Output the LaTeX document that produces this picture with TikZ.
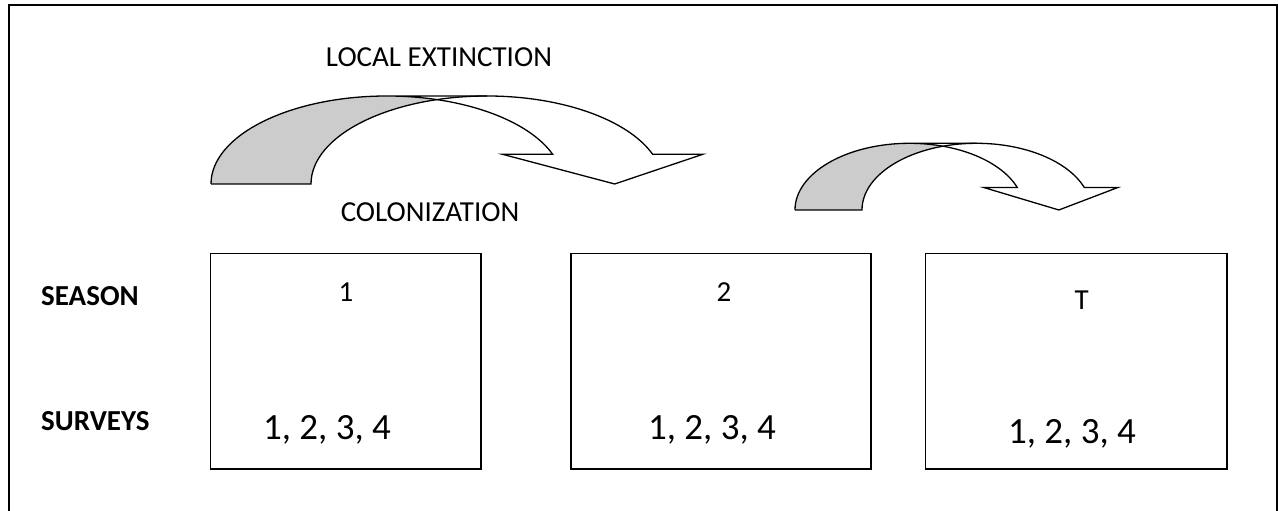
\documentclass[tikz,border=0pt]{standalone}
\usepackage{fontspec}
\setmainfont{Carlito}
\begin{document}
\begin{tikzpicture}[x=1pt,y=1pt,
  labeltext/.style={inner sep=0pt,font=\fontsize{29}{34}\selectfont},
  headtext/.style={labeltext,font=\fontsize{29}{34}\selectfont\bfseries},
  surveytext/.style={inner sep=0pt,font=\fontsize{37}{44}\selectfont},
  seasonbox/.style={draw,line width=1.4pt,minimum height=215.7pt,inner sep=0pt},
  arrowline/.style={line width=1.3pt,line join=miter},
  backshade/.style={fill=black!20}]

\useasboundingbox (0,0) rectangle (1278,511);

% outer frame (its lower edge lies below the page)
\draw[line width=2pt] (8.5,-5) -- (8.5,506) -- (1276.5,506) -- (1276.5,-5);

% curved arrow: rear band (shaded) and front band ending in a head
% #1,#2 centre of the rear ellipse, #3,#4 radii, #5 band width
\newcommand\bentarrow[5]{%
  \begin{scope}[shift={(#1,#2)}]
    \pgfmathsetmacro\crossang{acos(#5/(2*#3))}
    \pgfmathsetmacro\crossangb{180-\crossang}
    \pgfmathsetmacro\endang{19.7}
    \pgfmathsetmacro\innx{#3*cos(\endang)}
    \pgfmathsetmacro\inny{#4*sin(\endang)}
    \pgfmathsetmacro\outx{\innx+#5}
    \pgfmathsetmacro\tipx{\innx+0.62*#5}
    \pgfmathsetmacro\wing{#5/2}
    \coordinate (tip) at (\tipx,0);
    \fill[backshade] (-#3,0)
      arc[start angle=180,end angle=\crossang,x radius=#3,y radius=#4]
      arc[start angle=\crossangb,end angle=180,x radius=#3,y radius=#4] -- cycle;
    \draw[arrowline] (-#3,0)
      arc[start angle=180,end angle=90,x radius=#3,y radius=#4]
      -- ++(#5,0)
      arc[start angle=90,end angle=\endang,x radius=#3,y radius=#4]
      -- ++(\wing,0) -- (tip) -- (\innx-\wing,\inny) -- (\innx,\inny)
      arc[start angle=\endang,end angle=90,x radius=#3,y radius=#4];
    \draw[arrowline] (-#3,0) -- (#5-#3,0)
      arc[start angle=180,end angle=90,x radius=#3,y radius=#4];
  \end{scope}}

\bentarrow{387}{327}{176}{88}{100}
\bentarrow{909.5}{301}{114.5}{66.7}{67}

\node[labeltext,anchor=base] (ext) at (439,444.3) {LOCAL EXTINCTION};
\node[labeltext,anchor=base] (col) at (430,289.3) {COLONIZATION};

% seasons
\node[seasonbox,minimum width=270.3pt] (s1) at (345.85,149.85) {};
\node[seasonbox,minimum width=300pt]   (s2) at (721,149.85) {};
\node[seasonbox,minimum width=301.3pt] (s3) at (1076.35,149.85) {};

\node[headtext,anchor=base west] (season)  at (41,205) {SEASON};
\node[headtext,anchor=base west] (surveys) at (41,80.3) {SURVEYS};

\node[labeltext,anchor=base] (n1) at (346,209.4) {1};
\node[labeltext,anchor=base] (n2) at (724,209.4) {2};
\node[labeltext,anchor=base] (nT) at (1081.7,201.3) {T};

\node[surveytext,anchor=base] (v1) at (327,71) {1, 2, 3, 4};
\node[surveytext,anchor=base] (v2) at (712,71) {1, 2, 3, 4};
\node[surveytext,anchor=base] (v3) at (1072,67) {1, 2, 3, 4};
\end{tikzpicture}
\end{document}
